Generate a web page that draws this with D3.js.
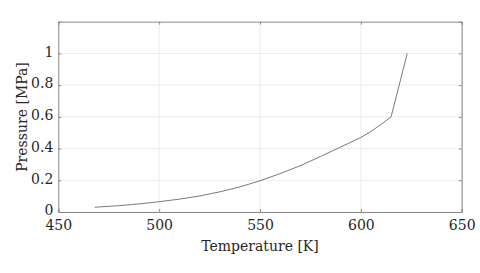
<!DOCTYPE html>
<html><head><meta charset="utf-8">
<script src="https://cdn.jsdelivr.net/npm/d3@7"></script>
<style>body{margin:0;background:#fff;} svg{display:block;} text{font-family:"DejaVu Serif",serif;}</style>
</head><body>
<svg id="c" width="480" height="273"></svg>
<script>
const temperature = [468, 480, 490, 500, 510, 520, 530, 540, 550, 560, 570, 580, 590, 600, 605, 610, 615, 623];
const pressure    = [0.030, 0.040, 0.051, 0.065, 0.081, 0.101, 0.127, 0.158, 0.197, 0.242, 0.292, 0.350, 0.410, 0.470, 0.508, 0.552, 0.600, 1.000];
const xTicks = [450, 500, 550, 600, 650];
const yTicks = [0, 0.2, 0.4, 0.6, 0.8, 1];
const xLabel = "Temperature [K]";
const yLabel = "Pressure [MPa]";

const svg = d3.select("#c");
const L = 58.3, R = 461.7, T = 21.7, B = 212;
const x = d3.scaleLinear().domain([450, 650]).range([L, R]);
const y = d3.scaleLinear().domain([0, 1.2]).range([B, T]);
const axisCol = "#8c8c8c";

// grid
svg.append("g").selectAll("line").data(xTicks).join("line")
  .attr("x1", d => x(d)).attr("x2", d => x(d)).attr("y1", T).attr("y2", B)
  .attr("stroke", "#ececec").attr("stroke-width", 1);
svg.append("g").selectAll("line").data(yTicks).join("line")
  .attr("x1", L).attr("x2", R).attr("y1", d => y(d)).attr("y2", d => y(d))
  .attr("stroke", "#ececec").attr("stroke-width", 1);

// axes
const fmt = d => d3.format("~g")(d);
const gx = svg.append("g").attr("transform", `translate(0,${B})`)
  .call(d3.axisBottom(x).tickValues(xTicks).tickSize(-3).tickPadding(8).tickFormat(fmt));
const gxt = svg.append("g").attr("transform", `translate(0,${T})`)
  .call(d3.axisTop(x).tickValues(xTicks).tickSize(-3).tickFormat(""));
const gy = svg.append("g").attr("transform", `translate(${L},0)`)
  .call(d3.axisLeft(y).tickValues(yTicks).tickSize(-3).tickPadding(5).tickFormat(fmt));
const gyr = svg.append("g").attr("transform", `translate(${R},0)`)
  .call(d3.axisRight(y).tickValues(yTicks).tickSize(-3).tickFormat(""));
[gx, gxt, gy, gyr].forEach(g => {
  g.attr("font-size", 14);
  g.select(".domain").attr("stroke", axisCol);
  g.selectAll(".tick line").attr("stroke", axisCol);
  g.selectAll("text").attr("fill", "#262626").attr("font-size", 14);
});
gx.selectAll(".tick text").attr("dy", "0.71em");
gy.selectAll(".tick text").attr("dy", "0.2em");

// line
svg.append("path").datum(temperature.map((t, i) => [t, pressure[i]]))
  .attr("fill", "none").attr("stroke", "#7a7a7a").attr("stroke-width", 1)
  .attr("d", d3.line().x(d => x(d[0])).y(d => y(d[1])));

// labels
svg.append("text").attr("x", (L + R) / 2).attr("y", 251).attr("text-anchor", "middle")
  .attr("font-size", 14).attr("fill", "#262626").text(xLabel);
svg.append("text").attr("transform", `translate(27,${117}) rotate(-90)`).attr("text-anchor", "middle")
  .attr("font-size", 14).attr("fill", "#262626").text(yLabel);
</script>
</body></html>
